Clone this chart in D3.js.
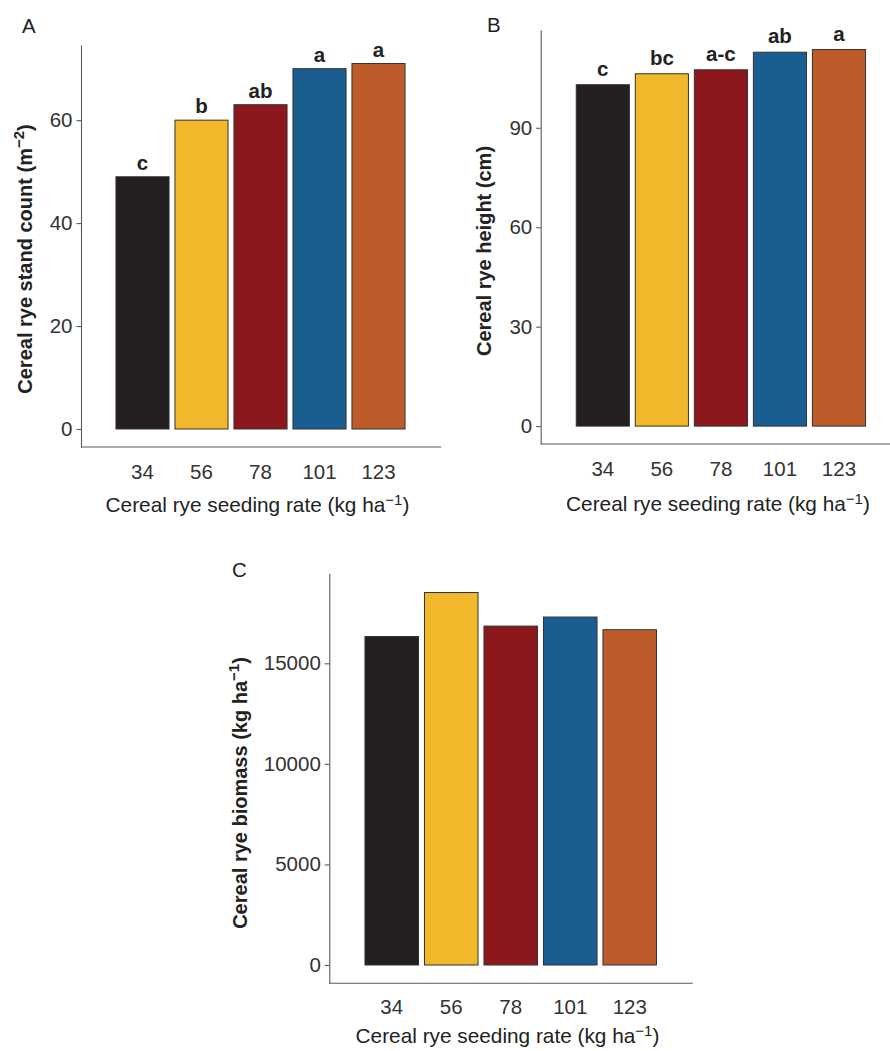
<!DOCTYPE html>
<html>
<head>
<meta charset="utf-8">
<script src="https://cdn.jsdelivr.net/npm/d3@7"></script>
<style>
  body { margin: 0; background: #fff; }
  text { font-family: "Liberation Sans", Arial, sans-serif; }
</style>
</head>
<body>
<div id="chart"></div>
<script>
"use strict";

// seeding rates (kg ha-1) on the x axis of all three panels
var rates = ["34", "56", "78", "101", "123"];
var barColors = ["#231f20", "#f0b82a", "#8c181d", "#1a5e91", "#bd5b2b"];

// A: stand count (m-2)
var standCount = [49, 60, 63, 70, 71];
var standLetters = ["c", "b", "ab", "a", "a"];
var standTicks = [0, 20, 40, 60];

// B: height (cm)
var ryeHeight = [103, 106.3, 107.5, 112.8, 113.6];
var heightLetters = ["c", "bc", "a-c", "ab", "a"];
var heightTicks = [0, 30, 60, 90];

// C: biomass (kg ha-1)
var biomass = [16330, 18520, 16850, 17300, 16670];
var biomassTicks = [0, 5000, 10000, 15000];

var svg = d3.select("#chart")
  .append("svg")
  .attr("width", 890)
  .attr("height", 1051);

svg.append("rect").attr("width", 890).attr("height", 1051).attr("fill", "#fff");

var drawPanel = function(p) {
  var g = svg.append("g");

  // Scales
  var x = d3.scaleBand()
    .domain(rates)
    .range(p.band)
    .paddingInner(0.1)
    .paddingOuter(0.05);

  var y = d3.scaleLinear()
    .domain(p.ydomain)
    .range([p.bottom, p.top]);

  // x axis line runs the full panel width
  g.append("line")
    .attr("x1", p.left).attr("x2", p.right)
    .attr("y1", p.bottom).attr("y2", p.bottom)
    .attr("stroke", "#5a5a5a")
    .attr("stroke-width", 1.1);

  var yAxis = g.append("g")
    .attr("transform", "translate(" + p.left + ",0)")
    .call(d3.axisLeft(y).tickValues(p.ticks).tickFormat(d3.format("d"))
      .tickSize(4.5).tickSizeOuter(0).tickPadding(4));
  yAxis.select(".domain").attr("stroke", "#5a5a5a").attr("stroke-width", 1.1);
  yAxis.selectAll(".tick line").attr("stroke", "#5a5a5a").attr("stroke-width", 1.1);
  yAxis.selectAll(".tick text")
    .attr("fill", "#333")
    .attr("font-size", "20.5px")
    .attr("font-family", "Liberation Sans, Arial, sans-serif");

  var xAxis = g.append("g")
    .attr("transform", "translate(0," + p.bottom + ")")
    .call(d3.axisBottom(x).tickSize(0).tickPadding(p.xpad));
  xAxis.select(".domain").remove();
  xAxis.selectAll(".tick text")
    .attr("fill", "#333")
    .attr("font-size", "20.5px")
    .attr("font-family", "Liberation Sans, Arial, sans-serif");

  // bars
  g.selectAll(".bar")
    .data(p.values)
    .enter().append("rect")
    .attr("class", "bar")
    .attr("x", function(d, i) { return x(rates[i]); })
    .attr("width", x.bandwidth())
    .attr("y", function(d) { return y(d); })
    .attr("height", function(d) { return y(0) - y(d); })
    .attr("fill", function(d, i) { return barColors[i]; })
    .attr("stroke", "#333")
    .attr("stroke-width", 1);

  // mean separation letters
  if (p.letters) {
    g.selectAll(".sig")
      .data(p.values)
      .enter().append("text")
      .attr("class", "sig")
      .attr("x", function(d, i) { return x(rates[i]) + x.bandwidth() / 2; })
      .attr("y", function(d) { return y(d) - p.gap; })
      .attr("text-anchor", "middle")
      .attr("font-size", "20.5px")
      .attr("font-weight", "bold")
      .attr("fill", "#222")
      .text(function(d, i) { return p.letters[i]; });
  }

  // y title (bold, rotated)
  var yt = g.append("text")
    .attr("transform", "translate(" + p.ytitle[0] + "," + p.ytitle[1] + ") rotate(-90)")
    .attr("text-anchor", "middle")
    .attr("font-size", "20px")
    .attr("font-weight", "bold")
    .attr("fill", "#222");
  yt.append("tspan").text(p.ylabel[0]);
  if (p.ylabel[1]) {
    yt.append("tspan").attr("dy", -7.5).attr("font-size", "15px").text(p.ylabel[1]);
    yt.append("tspan").attr("dy", 7.5).text(p.ylabel[2]);
  }

  // x title
  var xt = g.append("text")
    .attr("x", p.xtitle[0])
    .attr("y", p.xtitle[1])
    .attr("text-anchor", "middle")
    .attr("font-size", "20.8px")
    .attr("fill", "#222");
  xt.append("tspan").text("Cereal rye seeding rate (kg ha");
  xt.append("tspan").attr("dy", -7.5).attr("font-size", "15px").text("\u22121");
  xt.append("tspan").attr("dy", 7.5).text(")");

  // panel tag
  g.append("text")
    .attr("x", p.tag[0])
    .attr("y", p.tag[1])
    .attr("font-size", "20.5px")
    .attr("fill", "#222")
    .text(p.name);
};

drawPanel({
  name: "A", tag: [22, 33],
  values: standCount, letters: standLetters, ticks: standTicks, gap: 7,
  left: 81, right: 441, top: 45, bottom: 447,
  ydomain: [-3.5, 74.6], band: [113, 408], xpad: 17,
  ytitle: [31.5, 259], ylabel: ["Cereal rye stand count (m", "\u22122", ")"],
  xtitle: [257.5, 512]
});

drawPanel({
  name: "B", tag: [487, 32],
  values: ryeHeight, letters: heightLetters, ticks: heightTicks, gap: 9,
  left: 540.7, right: 890, top: 30, bottom: 444,
  ydomain: [-5.4, 119.5], band: [573.3, 868.5], xpad: 17,
  ytitle: [490.5, 251], ylabel: ["Cereal rye height (cm)"],
  xtitle: [718, 511]
});

drawPanel({
  name: "C", tag: [232, 577],
  values: biomass, letters: null, ticks: biomassTicks, gap: 0,
  left: 329.3, right: 692.7, top: 573.3, bottom: 983.3,
  ydomain: [-910, 19475], band: [362, 659.5], xpad: 16,
  ytitle: [246.5, 793], ylabel: ["Cereal rye biomass (kg ha", "\u22121", ")"],
  xtitle: [507.5, 1043]
});
</script>
</body>
</html>
